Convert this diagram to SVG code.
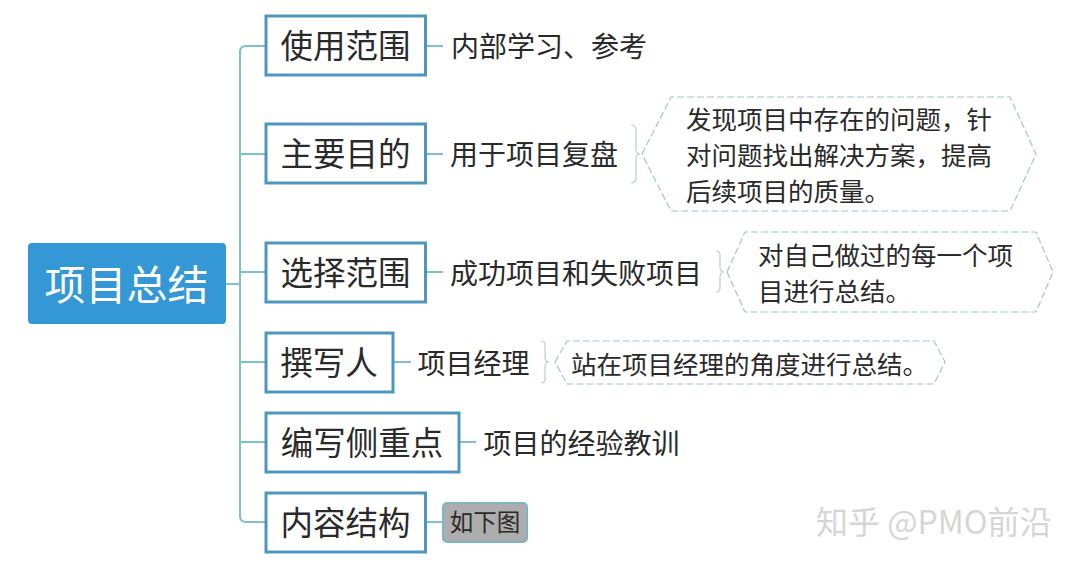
<svg xmlns="http://www.w3.org/2000/svg" width="1080" height="568" viewBox="0 0 1080 568">
<style>
text{font-family:"Noto Sans CJK SC","Noto Sans",sans-serif;fill:#2a2a2a}
.box{fill:#fff;stroke:#4f96bf;stroke-width:3}
.main{font-size:32.5px}
.sub{font-size:28px}
.note{font-size:25.5px}
.link{fill:none;stroke:#7fc0cc;stroke-width:2}
.brace{fill:none;stroke:#b9cfd0;stroke-width:1.2}
.hex{fill:#fff;stroke:#a6c6c6;stroke-width:1.2;stroke-dasharray:7 3}
</style>
<rect width="1080" height="568" fill="#fff"/>
<g id="connectors">
<path class="link" d="M226 284H240"/>
<path class="link" d="M266 46H246Q240 46 240 52V516Q240 522 246 522H266"/>
<path class="link" d="M240 154H266M240 272H266M240 362H266M240 442H266"/>
<path class="link" d="M426 46H443M426 154H443M426 272H443M393 362H411M459 442H476M426 522H443"/>
<path class="brace" d="M631 125Q636 125 636 130V149Q636 154 640 154Q636 154 636 159V178Q636 183 631 183"/>
<path class="brace" d="M716 251Q720 251 720 255V267Q720 272 724 272Q720 272 720 277V288Q720 292 716 292"/>
<path class="brace" d="M541 341Q545 341 545 345V357Q545 362 549 362Q545 362 545 367V379Q545 383 541 383"/>
</g>
<g id="root"><rect x="28" y="243" width="198" height="81" rx="4" fill="#3498d6"/><text x="126.500" y="300" text-anchor="middle" style="font-size:41px;fill:#fff">项目总结</text></g>
<g id="n1"><rect class="box" x="266" y="16" width="159.500" height="59"/><text class="main" x="345.500" y="58" text-anchor="middle">使用范围</text></g>
<g id="n2"><rect class="box" x="266" y="124" width="159.500" height="59"/><text class="main" x="345.500" y="166" text-anchor="middle">主要目的</text></g>
<g id="n3"><rect class="box" x="266" y="243" width="159.500" height="59"/><text class="main" x="345.500" y="285" text-anchor="middle">选择范围</text></g>
<g id="n4"><rect class="box" x="266" y="333" width="127" height="59"/><text class="main" x="329" y="375" text-anchor="middle">撰写人</text></g>
<g id="n5"><rect class="box" x="266" y="413" width="193" height="59"/><text class="main" x="362" y="455" text-anchor="middle">编写侧重点</text></g>
<g id="n6"><rect class="box" x="266" y="493" width="159.500" height="59"/><text class="main" x="345.500" y="535" text-anchor="middle">内容结构</text></g>
<g id="s1"><text class="sub" x="451" y="57">内部学习、参考</text></g>
<g id="s2"><text class="sub" x="450" y="165">用于项目复盘</text></g>
<g id="s3"><text class="sub" x="450" y="284">成功项目和失败项目</text></g>
<g id="s4"><text class="sub" x="417.500" y="374">项目经理</text></g>
<g id="s5"><text class="sub" x="483.500" y="454">项目的经验教训</text></g>
<g id="s6"><rect x="443" y="503" width="84" height="39" rx="4" fill="#adadad" stroke="#7fb5bf" stroke-width="2"/><text x="485" y="531" text-anchor="middle" style="font-size:23.500px">如下图</text></g>
<g id="h1"><polygon class="hex" points="642,154 671,97 1010,97 1036,154 1010,211 671,211"/>
<text class="note" x="686" y="129">发现项目中存在的问题，针</text><text class="note" x="686" y="165">对问题找出解决方案，提高</text><text class="note" x="686" y="201">后续项目的质量。</text></g>
<g id="h2"><polygon class="hex" points="727,272 745,232 1036,232 1053,272 1036,312 745,312"/>
<text class="note" x="758" y="265">对自己做过的每一个项</text><text class="note" x="758" y="301">目进行总结。</text></g>
<g id="h3"><polygon class="hex" points="555,362 567,341 934,341 945,362 934,384 567,384"/>
<text class="note" x="571" y="374">站在项目经理的角度进行总结。</text></g>
<g id="watermark"><text x="816" y="534" style="font-size:32px;fill:#d6d6d6">知乎 @PMO前沿</text></g>
</svg>
